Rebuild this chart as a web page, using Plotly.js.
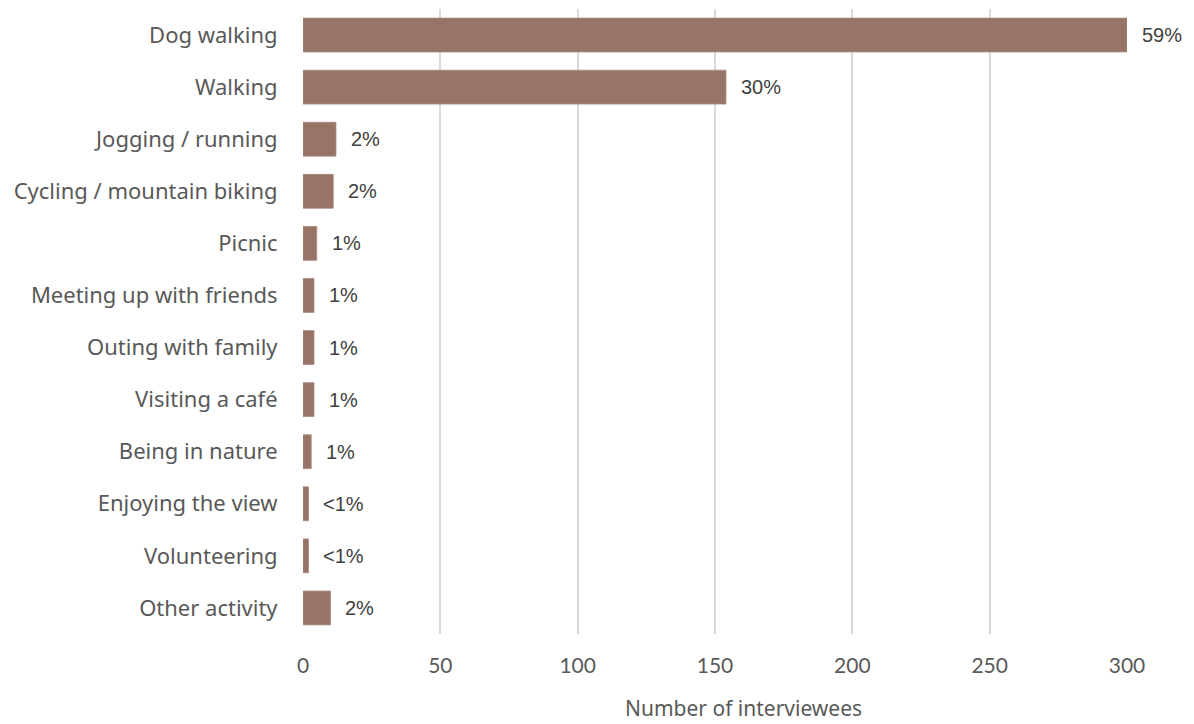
<!DOCTYPE html>
<html>
<head>
<meta charset="utf-8">
<script src="https://cdn.plot.ly/plotly-3.0.1.min.js"></script>
<style>html,body{margin:0;padding:0;background:#fff;}#chart{width:1194px;height:724px;}</style>
</head>
<body>
<div id="chart"></div>
<script>
const categories = ["Dog walking","Walking","Jogging / running","Cycling / mountain biking","Picnic","Meeting up with friends","Outing with family","Visiting a café","Being in nature","Enjoying the view","Volunteering","Other activity"];
const counts = [300,154,12,11,5,4,4,4,3,2,2,10];
const percentLabels = ["59%","30%","2%","2%","1%","1%","1%","1%","1%","<1%","<1%","2%"];
const xTicks = [0,50,100,150,200,250,300];
const xTitle = 'Number of interviewees';

const trace = {
  type: 'bar',
  orientation: 'h',
  y: categories,
  x: counts,
  marker: {color: '#977465', line: {color: '#a88a7c', width: 0.8}},
  hoverinfo: 'x+y'
};

const annotations = categories.map((c, i) => ({
  x: counts[i], y: c, xref: 'x', yref: 'y',
  text: percentLabels[i], showarrow: false,
  xanchor: 'left', xshift: 13,
  font: {family: 'Liberation Sans, Arial, sans-serif', size: 20, color: '#404040'}
}));
annotations.push({
  xref: 'paper', yref: 'paper', x: 0.534, y: -0.118,
  xanchor: 'center', yanchor: 'middle', showarrow: false,
  text: xTitle,
  font: {family: 'Noto Sans, sans-serif', size: 21, color: '#595959'}
});

const layout = {
  width: 1194, height: 724,
  margin: {l: 303, r: 67, t: 9, b: 90},
  paper_bgcolor: '#fff', plot_bgcolor: '#fff',
  bargap: 0.35,
  showlegend: false,
  xaxis: {
    range: [0, 300],
    tickvals: xTicks,
    ticktext: xTicks.map(String),
    showgrid: true, gridcolor: '#d9d9d9', gridwidth: 2,
    zeroline: false, showline: false,
    ticks: 'outside', ticklen: 13, tickcolor: 'rgba(0,0,0,0)',
    tickfont: {family: 'Lato, sans-serif', size: 21, color: '#595959'},
    fixedrange: true
  },
  yaxis: {
    autorange: 'reversed',
    type: 'category',
    showgrid: false, zeroline: false, showline: false,
    ticks: 'outside', ticklen: 20, tickcolor: 'rgba(0,0,0,0)',
    tickfont: {family: 'Noto Sans, sans-serif', size: 22, color: '#595959'},
    fixedrange: true
  },
  annotations: annotations
};

Plotly.newPlot('chart', [trace], layout, {displayModeBar: false, staticPlot: true});
</script>
</body>
</html>
